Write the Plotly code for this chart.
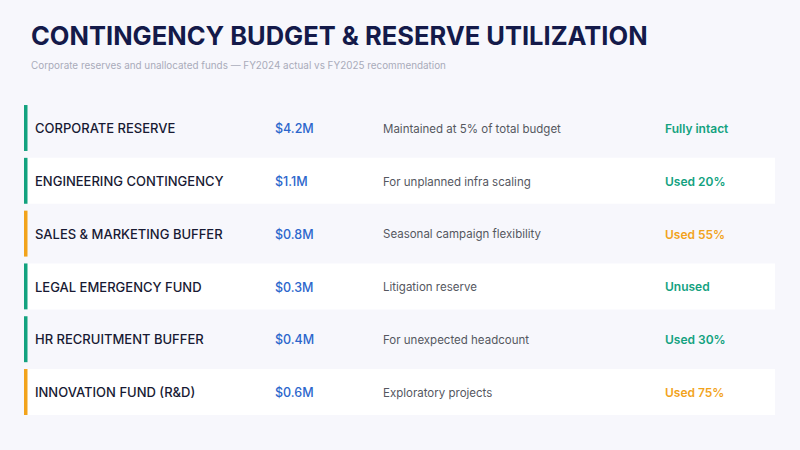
import plotly.graph_objects as go

# datos de la tabla
funds = ["CORPORATE RESERVE", "ENGINEERING CONTINGENCY", "SALES & MARKETING BUFFER",
         "LEGAL EMERGENCY FUND", "HR RECRUITMENT BUFFER", "INNOVATION FUND (R&D)"]
amounts = ["$4.2M", "$1.1M", "$0.8M", "$0.3M", "$0.4M", "$0.6M"]
notes = ["Maintained at 5% of total budget", "For unplanned infra scaling",
         "Seasonal campaign flexibility", "Litigation reserve",
         "For unexpected headcount", "Exploratory projects"]
status = ["Fully intact", "Used 20%", "Used 55%", "Unused", "Used 30%", "Used 75%"]
status_level = ["ok", "ok", "warn", "ok", "ok", "warn"]

GREEN = "#13a27f"
ORANGE = "#f2a31b"
BG = "#f7f7fc"
level_color = {"ok": GREEN, "warn": ORANGE}
colors = [level_color[s] for s in status_level]
row_fill = ["rgba(255,255,255,0)" if i % 2 == 0 else "#ffffff" for i in range(len(funds))]

FONT = "Inter, Roboto, sans-serif"

fig = go.Figure()

# fondos de filas
fig.add_trace(go.Bar(y=funds, x=[751] * len(funds), base=24, orientation="h",
                     width=0.87, marker=dict(color=row_fill, line_width=0),
                     hoverinfo="skip"))
# barra de acento
fig.add_trace(go.Bar(y=funds, x=[3.5] * len(funds), base=24, orientation="h",
                     width=0.87, marker=dict(color=colors, line_width=0),
                     hoverinfo="skip"))

# columnas de texto (eje y2 un poco desplazado para centrar el texto)
def col(x, texts, color, size, weight):
    fig.add_trace(go.Scatter(x=[x] * len(texts), y=funds, text=texts, mode="text",
                             textposition="middle right", yaxis="y2",
                             textfont=dict(family=FONT, size=size, color=color, weight=weight),
                             hoverinfo="skip"))

col(35, funds, "#181a33", 13, 500)
col(275, amounts, "#2c66cc", 12.5, 500)
col(383, notes, "#55575f", 11.5, 400)
col(665, status, colors, 12, 600)

fig.update_layout(
    width=800, height=450,
    margin=dict(l=0, r=0, t=0, b=0),
    paper_bgcolor=BG, plot_bgcolor=BG,
    barmode="overlay", showlegend=False,
    xaxis=dict(range=[0, 800], visible=False, fixedrange=True),
    yaxis=dict(type="category", categoryorder="array", categoryarray=funds,
               range=[6.098, -2.424], visible=False, fixedrange=True),
    yaxis2=dict(type="category", categoryorder="array", categoryarray=funds,
                range=[6.06, -2.462], visible=False, fixedrange=True, overlaying="y"),
    annotations=[
        dict(text="CONTINGENCY BUDGET & RESERVE UTILIZATION", x=29 / 800, y=1 - 36 / 450,
             xref="paper", yref="paper", xanchor="left", yanchor="middle", showarrow=False,
             font=dict(family=FONT, size=25.5, color="#141a4a", weight=700)),
        dict(text="Corporate reserves and unallocated funds — FY2024 actual vs FY2025 recommendation",
             x=29 / 800, y=1 - 65 / 450, xref="paper", yref="paper", xanchor="left",
             yanchor="middle", showarrow=False,
             font=dict(family=FONT, size=9.9, color="#a9abba")),
    ],
)

fig.write_html("out.html", config={"displayModeBar": False},
               post_script="document.body.style.margin='0';document.body.style.background='#f7f7fc';")
